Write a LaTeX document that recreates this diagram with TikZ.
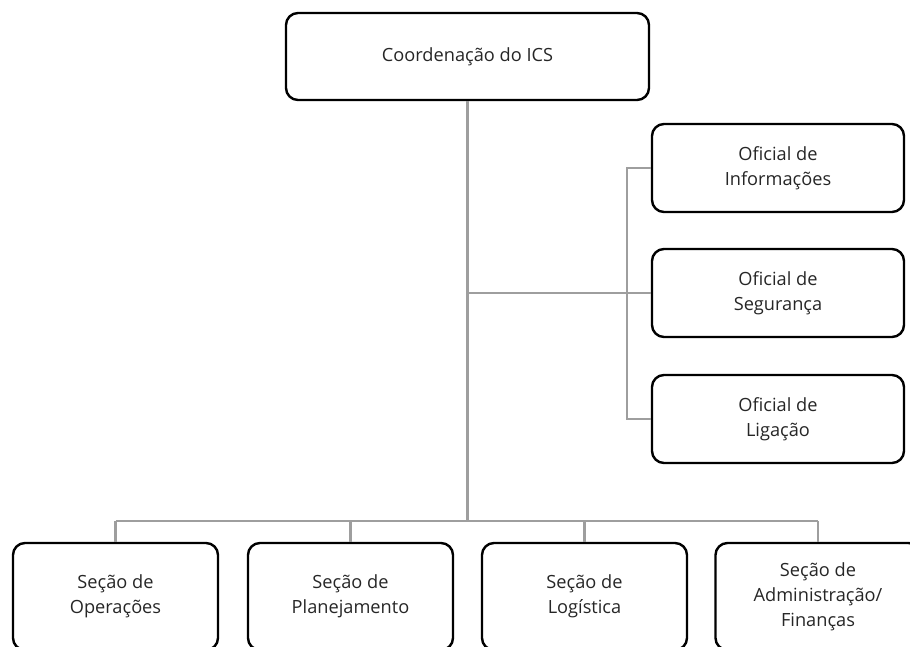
\documentclass[tikz,border=0pt]{standalone}
\usepackage{fontspec}
\setmainfont{Open Sans}
\usepackage{tikz}

\begin{document}
\begin{tikzpicture}[x=1pt,y=-1pt,
  unit/.style={draw=black,line width=2.4pt,rounded corners=12pt,align=center,
    text=black!85,font=\fontsize{18.2}{25}\selectfont,inner sep=0pt},
  top unit/.style={unit,minimum width=363pt,minimum height=87pt},
  side unit/.style={unit,minimum width=252pt,minimum height=88pt},
  sec unit/.style={unit,minimum width=205pt,minimum height=107pt},
  link/.style={draw=black!38,line width=2.8pt}]

  \clip (0,0) rectangle (910,647);

  \node [top unit] (ics) at (467.5,56.5) {Coordenação do ICS};

  \node [side unit] (inf) at (778,168) {Oficial de\\Informações};
  \node [side unit] (seg) at (778,293) {Oficial de\\Segurança};
  \node [side unit] (lig) at (778,419) {Oficial de\\Ligação};

  \node [sec unit] (ope) at (115.5,596.5) {Seção de\\Operações};
  \node [sec unit] (pla) at (350.5,596.5) {Seção de\\Planejamento};
  \node [sec unit] (log) at (584.5,596.5) {Seção de\\Logística};
  \node [sec unit] (adm) at (818,596.5) {Seção de\\Administração/\\Finanças};

  \coordinate (bus) at (0,521);
  \coordinate (rail) at (627,0);

  \begin{scope}[link]
    \draw (ics.south) -- (ics.south |- bus);
    \draw (ics.south |- seg.west) -- (seg.west);
    \draw (inf.west) -- (rail |- inf.west) -- (rail |- lig.west) -- (lig.west);
    \draw (ope.north |- bus) -- (adm.north |- bus);
    \foreach \s in {ope,pla,log,adm}
      \draw (\s.north |- bus) -- (\s.north);
  \end{scope}
\end{tikzpicture}
\end{document}
